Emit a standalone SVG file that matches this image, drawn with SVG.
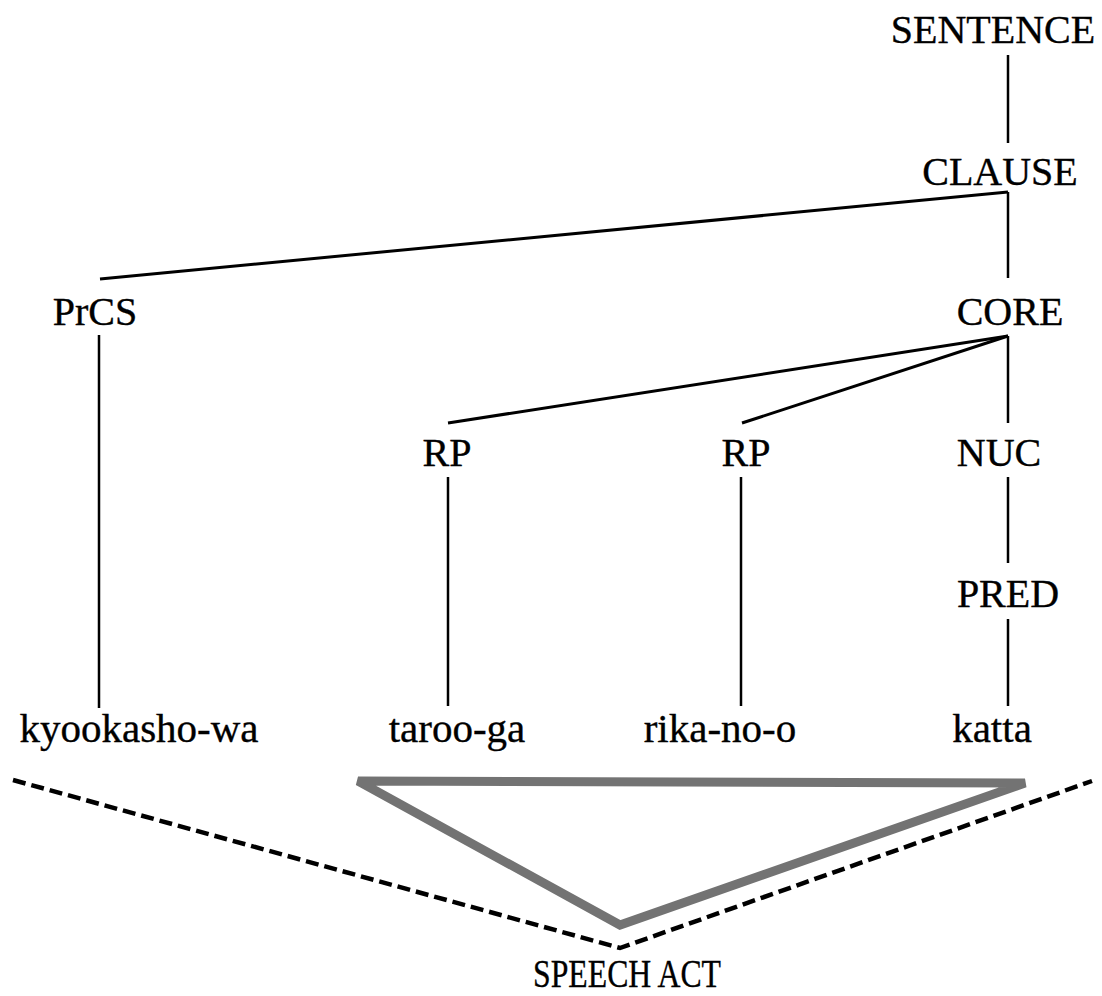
<svg xmlns="http://www.w3.org/2000/svg" width="1102" height="996" viewBox="0 0 1102 996">
<style>
.t{font-family:"Liberation Serif","Times New Roman",serif;font-size:40px;fill:#000;text-anchor:middle;stroke:#000;stroke-width:0.35}
.lf{font-size:41px}
.e{stroke:#000;stroke-width:2.5;fill:none;stroke-linecap:butt}
.d{stroke:#000;stroke-width:4.5;fill:none;stroke-dasharray:13 6}
</style>
<rect width="1102" height="996" fill="#fff"/>
<g id="connectors">
<line class="e" x1="1008" y1="55" x2="1008" y2="143"/>
<line class="e" x1="1008" y1="192" x2="100" y2="279" style="stroke-width:3"/>
<line class="e" x1="1008" y1="192" x2="1008" y2="278"/>
<line class="e" x1="99" y1="335" x2="99" y2="708"/>
<line class="e" x1="1008" y1="336" x2="448" y2="423" style="stroke-width:3"/>
<line class="e" x1="1008" y1="336" x2="742" y2="423" style="stroke-width:3"/>
<line class="e" x1="1008" y1="336" x2="1008" y2="423"/>
<line class="e" x1="448" y1="477" x2="448" y2="706"/>
<line class="e" x1="741" y1="477" x2="741" y2="706"/>
<line class="e" x1="1008" y1="477" x2="1008" y2="563"/>
<line class="e" x1="1008" y1="619" x2="1008" y2="706"/>
<polyline class="d" points="13,780 620,948 1092,781"/>
<polygon points="358,781 1025,783 620,925" fill="none" stroke="#737373" stroke-width="9" stroke-linejoin="miter"/>
</g>
<g id="n-sentence"><text class="t" x="993" y="43">SENTENCE</text></g>
<g id="n-clause"><text class="t" x="1000" y="185">CLAUSE</text></g>
<g id="n-prcs"><text class="t" x="95" y="325">PrCS</text></g>
<g id="n-core"><text class="t" x="1010" y="325">CORE</text></g>
<g id="n-rp1"><text class="t" x="447" y="466">RP</text></g>
<g id="n-rp2"><text class="t" x="746" y="466">RP</text></g>
<g id="n-nuc"><text class="t" x="999" y="466">NUC</text></g>
<g id="n-pred"><text class="t" x="1008" y="607">PRED</text></g>
<g id="n-kyookasho"><text class="t lf" x="139" y="742">kyookasho-wa</text></g>
<g id="n-taroo"><text class="t lf" x="457" y="742">taroo-ga</text></g>
<g id="n-rika"><text class="t lf" x="720" y="742">rika-no-o</text></g>
<g id="n-katta"><text class="t lf" x="992" y="742">katta</text></g>
<g id="n-speechact"><text class="t" x="627" y="987" font-size="34" textLength="188" lengthAdjust="spacingAndGlyphs">SPEECH ACT</text></g>
</svg>
